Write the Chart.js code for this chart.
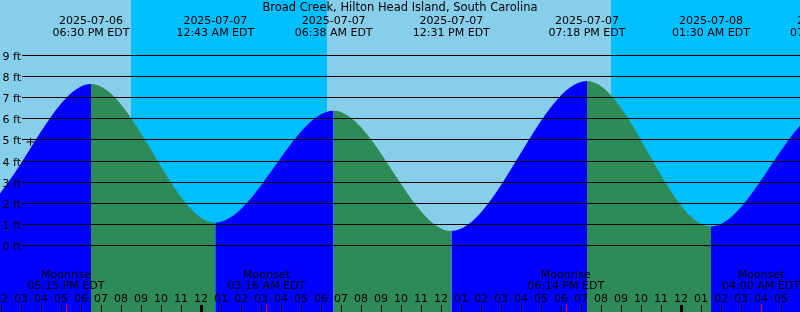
<!DOCTYPE html>
<html lang="en">
<head>
<meta charset="UTF-8">
<title>Broad Creek tides</title>
<script src="https://cdn.jsdelivr.net/npm/chart.js"></script>
<style>
  html, body { margin: 0; padding: 0; background: #87ceeb; }
  #wrap { width: 800px; height: 312px; }
</style>
</head>
<body>
<div id="wrap"><canvas id="tideChart"></canvas></div>
<script>
  // all times are hours counted from 2025-07-06 00:00 EDT
  // first and last two extremes lie outside the visible window
  const tideHours  = [6.2, 12.45, 18.5, 24.717, 30.633, 36.517, 43.3, 49.5, 55.4, 61.6];
  const tideFeet   = [7.0, 1.5, 7.63, 1.06, 6.36, 0.66, 7.77, 0.87, 6.5, 1.2];
  const tideDates  = ['', '', '2025-07-06', '2025-07-07', '2025-07-07', '2025-07-07', '2025-07-07', '2025-07-08', '2025-07-08', ''];
  const tideLabels = ['', '', '06:30 PM EDT', '12:43 AM EDT', '06:38 AM EDT', '12:31 PM EDT', '07:18 PM EDT', '01:30 AM EDT', '07:24 AM EDT', ''];

  const moonHours  = [17.25, 27.267, 42.233, 52.0];
  const moonEvents = ['Moonrise', 'Moonset', 'Moonrise', 'Moonset'];
  const moonLabels = ['05:15 PM EDT', '03:16 AM EDT', '06:14 PM EDT', '04:00 AM EDT'];

  const nightFrom = [20.5, 44.5];
  const nightTo   = [30.3, 54.3];

  const nowHour = [15.475];
  const nowFeet = [4.88];

  const feetTicks = [0, 1, 2, 3, 4, 5, 6, 7, 8, 9];
  const hourTicks = [];
  for (let h = 14; h <= 53; h++) hourTicks.push(h);

  const title = 'Broad Creek, Hilton Head Island, South Carolina';
  const FONT = '11px "DejaVu Sans"';
  const RISE = '#0000ff', FALL = '#2e8b57';

  function hourText(h) {
    const v = (h % 24) % 12 || 12;
    return String(v).padStart(2, '0');
  }

  const tidePaint = {
    id: 'tidePaint',
    beforeDatasetsDraw(chart) {
      const { ctx, chartArea: a, scales: { x } } = chart;
      ctx.save();
      ctx.fillStyle = '#87ceeb';
      ctx.fillRect(a.left, a.top, a.width, a.height);
      ctx.fillStyle = '#00bfff';
      nightFrom.forEach((h, i) => {
        const x0 = Math.round(x.getPixelForValue(h));
        const x1 = Math.round(x.getPixelForValue(nightTo[i]));
        ctx.fillRect(x0, a.top, x1 - x0, a.height);
      });
      ctx.restore();
    },
    afterDatasetsDraw(chart) {
      const { ctx, chartArea: a, scales: { x, y } } = chart;
      ctx.save();
      // horizontal feet lines
      ctx.strokeStyle = '#000';
      ctx.lineWidth = 1;
      ctx.font = FONT;
      ctx.fillStyle = '#000';
      ctx.textAlign = 'left';
      ctx.textBaseline = 'alphabetic';
      feetTicks.forEach(f => {
        const py = Math.round(y.getPixelForValue(f)) + 0.5;
        ctx.beginPath();
        ctx.moveTo(22, py);
        ctx.lineTo(a.right, py);
        ctx.stroke();
        ctx.fillText(f + ' ft', 2.5, py + 4.5);
      });

      ctx.textAlign = 'center';
      // title and high/low labels
      ctx.font = '11.5px "DejaVu Sans"';
      ctx.fillText(title, 400, 11);
      ctx.font = FONT;
      tideHours.forEach((h, i) => {
        if (!tideLabels[i]) return;
        const px = x.getPixelForValue(h);
        ctx.fillText(tideDates[i], px, 24);
        ctx.fillText(tideLabels[i], px, 36);
      });

      // moon events
      moonHours.forEach((h, i) => {
        const px = x.getPixelForValue(h);
        ctx.fillText(moonEvents[i], px, 278);
        ctx.fillText(moonLabels[i], px, 289);
      });

      // hour ticks
      hourTicks.forEach(h => {
        const px = Math.round(x.getPixelForValue(h));
        ctx.fillText(hourText(h), px, 302);
        if (h % 24 === 0) ctx.fillRect(px - 1, 305, 3, 7);
        else ctx.fillRect(px, 305, 1, 7);
      });
      ctx.fillStyle = '#ff0000';
      moonHours.forEach(h => {
        const px = Math.round(x.getPixelForValue(h));
        ctx.fillRect(px, 305, 1, 7);
      });
      ctx.restore();
    }
  };

  new Chart(document.getElementById('tideChart'), {
    type: 'line',
    data: {
      datasets: [{
        order: 2,
        data: tideHours.map((h, i) => ({ x: h, y: tideFeet[i] })),
        cubicInterpolationMode: 'monotone',
        borderWidth: 0,
        borderColor: 'rgba(0,0,0,0)',
        pointRadius: 0,
        fill: 'start',
        backgroundColor: RISE,
        segment: {
          backgroundColor: c => c.p1.parsed.y > c.p0.parsed.y ? RISE : FALL
        }
      }, {
        order: 1,
        data: nowHour.map((h, i) => ({ x: h, y: nowFeet[i] })),
        showLine: false,
        pointStyle: 'cross',
        pointRadius: 4,
        pointBorderWidth: 1,
        pointBorderColor: '#000',
        fill: false
      }]
    },
    options: {
      responsive: true,
      maintainAspectRatio: false,
      animation: false,
      layout: { padding: 0, autoPadding: false },
      plugins: { legend: { display: false }, tooltip: { enabled: false } },
      events: [],
      scales: {
        x: { type: 'linear', min: 13.95, max: 53.95, display: false },
        y: { min: -3.175, max: 11.61, display: false }
      }
    },
    plugins: [tidePaint]
  });
</script>
</body>
</html>
